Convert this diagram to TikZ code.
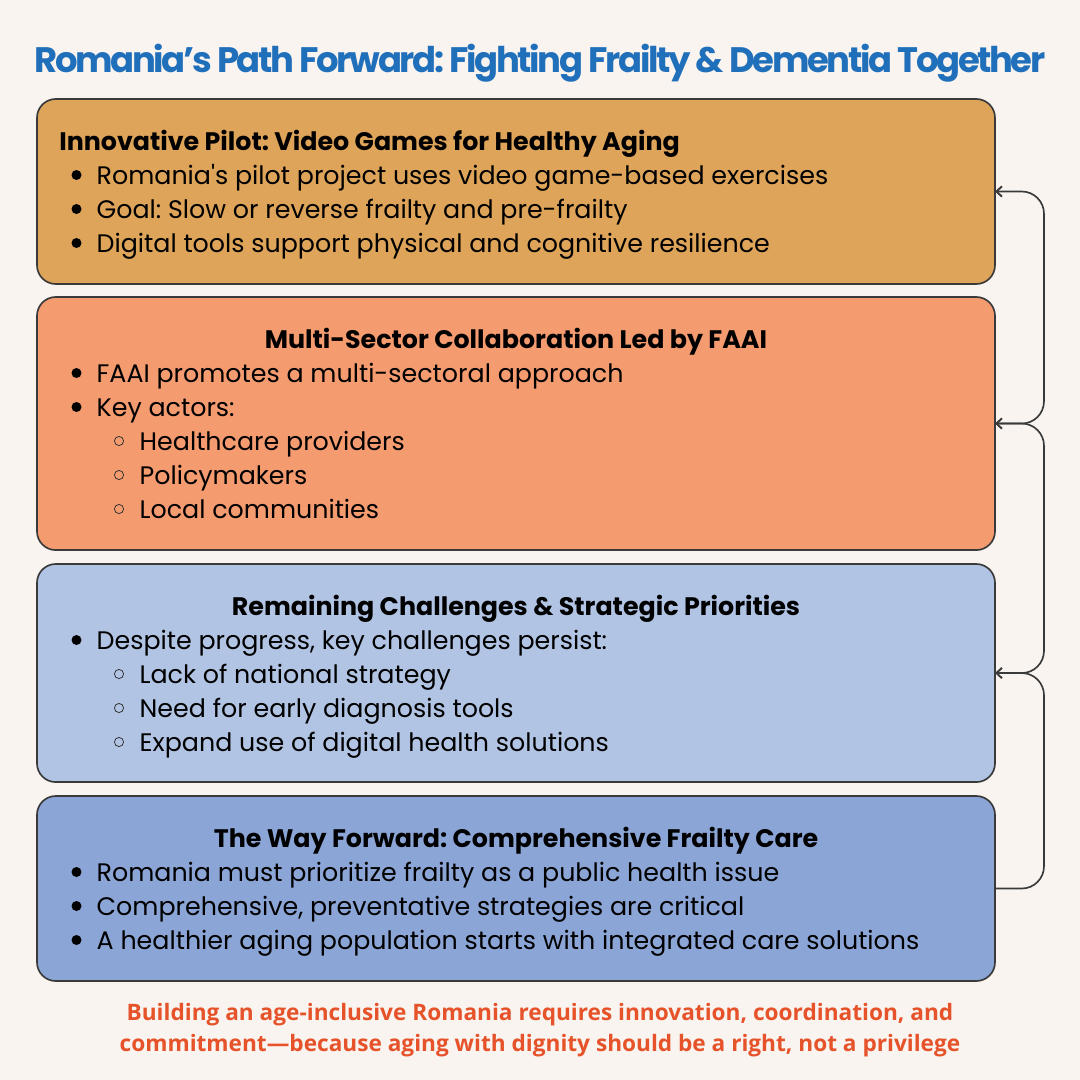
\documentclass[tikz,border=0pt]{standalone}
\usepackage{fontspec}
\setmainfont{Poppins}
\newfontfamily\opensans{Open Sans}
\newfontfamily\titlefont[LetterSpace=-6.65]{Poppins}
\newfontfamily\plainquote{Poppins}
\usetikzlibrary{arrows.meta}
\definecolor{bg}{HTML}{F9F4EF}
\definecolor{titleblue}{HTML}{1F6FBA}
\definecolor{edge}{HTML}{3A3A3A}
\definecolor{boxa}{HTML}{DEA45A}
\definecolor{boxb}{HTML}{F49B70}
\definecolor{boxc}{HTML}{B1C4E4}
\definecolor{boxd}{HTML}{8BA5D6}
\definecolor{closing}{HTML}{E6532A}
\tikzset{
 px/.style={x=0.72pt,y=-0.72pt},
 panel/.style={draw=edge,line width=1.2pt,rounded corners=13.5pt,inner sep=0pt,outer sep=0pt,anchor=north west,minimum width=689.76pt},
 head/.style={font=\fontsize{18.24}{18.24}\selectfont\bfseries,text=black,inner sep=0pt},
 bodytext/.style={font=\fontsize{18.24}{18.24}\selectfont,text=black,inner sep=0pt,anchor=base west},
 dot/.style={circle,fill=black,inner sep=0pt,minimum size=7.2pt},
 ring/.style={circle,draw=black!80,line width=0.55pt,inner sep=0pt,minimum size=6.6pt},
 link/.style={draw=edge,line width=1.2pt,rounded corners=16pt,-{Straight Barb[length=4pt,width=7.5pt,line width=1.4pt]}},
 closingtext/.style={font=\opensans\fontsize{16.3}{16.3}\selectfont\bfseries,text=closing,inner sep=0pt,anchor=base},
}
\newcommand{\bulitem}[3]{\node[dot] (d#3) at (76.5,#2-9) {}; \node[bodytext] (t#3) at (96.4,#2) {#1};}
\newcommand{\ringitem}[3]{\node[ring] (d#3) at (119,#2-9) {}; \node[bodytext] (t#3) at (139.4,#2) {#1};}
\begin{document}
\frenchspacing
\begin{tikzpicture}[px]
\path[use as bounding box,fill=bg] (0,0) rectangle (1080,1080);
\node[font=\titlefont\fontsize{25.5}{25.5}\selectfont\bfseries,text=titleblue,inner sep=0pt,anchor=base] (title) at (540,72) {Romania’s Path Forward: Fighting Frailty \& Dementia Together};
\node[panel,fill=boxa,minimum height=133.2pt] (a) at (37,99) {};
\node[panel,fill=boxb,minimum height=182.2pt] (b) at (37,297) {};
\node[panel,fill=boxc,minimum height=157pt] (c) at (37,564) {};
\node[panel,fill=boxd,minimum height=133.2pt] (d) at (37,796) {};
\node[head,anchor=base west] (ha) at (59,150) {Innovative Pilot: Video Games for Healthy Aging};
\bulitem{Romania{\plainquote\symbol{39}}s pilot project uses video game-based exercises}{184}{a1}
\bulitem{Goal: Slow or reverse frailty and pre-frailty}{218}{a2}
\bulitem{Digital tools support physical and cognitive resilience}{252}{a3}
\node[head,anchor=base] (hb) at (516,348) {Multi-Sector Collaboration Led by FAAI};
\bulitem{FAAI promotes a multi-sectoral approach}{382}{b1}
\bulitem{Key actors:}{416}{b2}
\ringitem{Healthcare providers}{450}{b3}
\ringitem{Policymakers}{484}{b4}
\ringitem{Local communities}{518}{b5}
\node[head,anchor=base] (hc) at (516,615) {Remaining Challenges \& Strategic Priorities};
\bulitem{Despite progress, key challenges persist:}{649}{c1}
\ringitem{Lack of national strategy}{683}{c2}
\ringitem{Need for early diagnosis tools}{717}{c3}
\ringitem{Expand use of digital health solutions}{751}{c4}
\node[head,anchor=base] (hd) at (516,847) {The Way Forward: Comprehensive Frailty Care};
\bulitem{Romania must prioritize frailty as a public health issue}{881}{d1}
\bulitem{Comprehensive, preventative strategies are critical}{915}{d2}
\bulitem{A healthier aging population starts with integrated care solutions}{949}{d3}
\draw[link] (d.east) -- ++(49,0) |- (c.east);
\draw[link] (c.east) -- ++(49,0) |- (b.east);
\draw[link] (b.east) -- ++(49,0) |- (a.east);
\node[closingtext] (e1) at (540,1020) {Building an age-inclusive Romania requires innovation, coordination, and};
\node[closingtext] (e2) at (540,1051) {commitment—because aging with dignity should be a right, not a privilege};
\end{tikzpicture}
\end{document}
